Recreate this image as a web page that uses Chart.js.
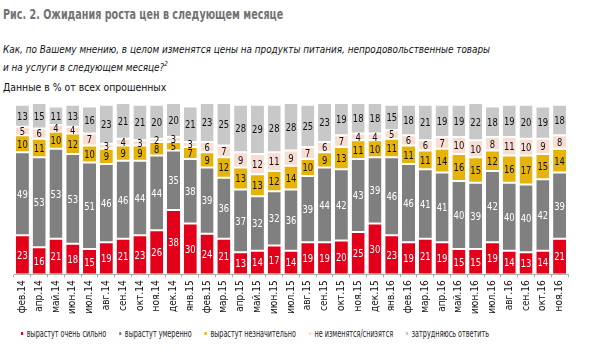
<!DOCTYPE html>
<html>
<head>
<meta charset="utf-8">
<script src="https://cdn.jsdelivr.net/npm/chart.js@4"></script>
<style>
  body { margin: 0; background: #fff; font-family: "DejaVu Sans Condensed", "DejaVu Sans", sans-serif; }
  #wrap { position: relative; width: 597px; height: 360px; overflow: hidden; }
  .txt { position: absolute; left: 3px; white-space: nowrap; transform-origin: 0 0; }
  #title { top: 6px; font-size: 14px; font-weight: bold; color: #727272; }
  #question { top: 43px; font-size: 11px; font-style: italic; line-height: 14px; color: #111; }
  #question sup { font-size: 7px; }
  #note { top: 81px; font-size: 11px; color: #111; }
  #chartBox { position: absolute; left: 0; top: 95px; width: 597px; height: 230px; }
  #legend { top: 328px; left: 21px; display: flex; gap: 18px; font-size: 10px; color: #222; }
  #legend span.dot { display: inline-block; width: 3px; height: 3px; margin-right: 5px; vertical-align: middle; position: relative; top: -1px; }
</style>
</head>
<body>
<div id="wrap">
  <div id="title" class="txt">Рис. 2. Ожидания роста цен в следующем месяце</div>
  <div id="question" class="txt">Как, по Вашему мнению, в целом изменятся цены на продукты питания, непродовольственные товары<br>и на услуги в следующем месяце?<sup>2</sup></div>
  <div id="note" class="txt">Данные в % от всех опрошенных</div>
  <div id="chartBox"><canvas id="chart"></canvas></div>
  <div id="legend" class="txt"></div>
</div>
<script>
const months = ['фев.14', 'апр.14', 'май.14', 'июн.14', 'июл.14', 'авг.14', 'сен.14', 'окт.14', 'ноя.14', 'дек.14',
  'янв.15', 'фев.15', 'мар.15', 'апр.15', 'май.15', 'июн.15', 'июл.15', 'авг.15', 'сен.15', 'окт.15', 'ноя.15', 'дек.15',
  'янв.16', 'фев.16', 'мар.16', 'апр.16', 'май.16', 'июн.16', 'июл.16', 'авг.16', 'сен.16', 'окт.16', 'ноя.16'];

const veryStrong = [23, 16, 21, 18, 15, 19, 21, 23, 26, 38, 30, 24, 21, 13, 14, 17, 14, 19, 19, 20, 25, 30, 23, 19, 21, 19, 15, 15, 19, 14, 13, 14, 21];
const moderate   = [49, 53, 53, 53, 51, 46, 46, 44, 44, 35, 38, 39, 36, 37, 32, 32, 36, 39, 44, 42, 43, 39, 46, 46, 41, 41, 40, 39, 42, 40, 40, 42, 39];
const slight     = [10, 11, 10, 12, 10, 9, 9, 9, 8, 5, 7, 9, 12, 13, 13, 12, 14, 10, 9, 13, 11, 10, 11, 11, 11, 14, 16, 15, 12, 16, 17, 15, 14];
const noChange   = [5, 6, 4, 4, 7, 3, 4, 3, 2, 3, 3, 6, 7, 9, 12, 11, 9, 7, 6, 7, 4, 4, 5, 6, 6, 7, 10, 10, 8, 11, 10, 9, 8];
const hardToSay  = [13, 15, 11, 13, 16, 23, 21, 21, 20, 20, 21, 23, 25, 28, 29, 28, 28, 25, 23, 19, 18, 18, 15, 18, 21, 19, 19, 22, 18, 19, 20, 19, 18];

const seriesNames = ['вырастут очень сильно', 'вырастут умеренно', 'вырастут незначительно', 'не изменятся/снизятся', 'затрудняюсь ответить'];
const seriesColors = ['#e2001a', '#808080', '#e6b30a', '#f8ddd2', '#c8c8c8'];
const labelColors = ['#fff', '#fff', '#111', '#111', '#111'];
const seriesData = [veryStrong, moderate, slight, noChange, hardToSay];

const FONT = '"DejaVu Sans Condensed", "DejaVu Sans", sans-serif';

// legend
const legend = document.getElementById('legend');
seriesNames.forEach((name, i) => {
  const item = document.createElement('div');
  item.innerHTML = '<span class="dot" style="background:' + seriesColors[i] + '"></span>' + name;
  legend.appendChild(item);
});

// squeeze text blocks horizontally to the narrow face of the original
function fitWidth(id, target) {
  const el = document.getElementById(id);
  el.style.transform = 'scaleX(' + (target / el.scrollWidth) + ')';
}
fitWidth('title', 280);
fitWidth('question', 487);
fitWidth('note', 163);
fitWidth('legend', 468);

const segmentLabels = {
  id: 'segmentLabels',
  afterDatasetsDraw(chart) {
    const ctx = chart.ctx;
    ctx.save();
    ctx.font = '11px ' + FONT;
    ctx.textAlign = 'center';
    ctx.textBaseline = 'middle';
    chart.data.datasets.forEach((ds, di) => {
      const meta = chart.getDatasetMeta(di);
      ctx.fillStyle = labelColors[di];
      meta.data.forEach((bar, i) => {
        const mid = (bar.y + bar.base) / 2;
        ctx.save();
        ctx.translate(bar.x, mid + 1);
        ctx.scale(0.85, 1);
        ctx.fillText(ds.data[i], 0, 0);
        ctx.restore();
      });
    });
    ctx.restore();
  }
};

new Chart(document.getElementById('chart'), {
  type: 'bar',
  data: {
    labels: months,
    datasets: seriesData.map((d, i) => ({
      label: seriesNames[i],
      data: d,
      backgroundColor: seriesColors[i],
      borderColor: '#fff',
      borderWidth: { top: 1, bottom: 1, left: 0, right: 0 },
      borderSkipped: false,
      barPercentage: 0.8,
      categoryPercentage: 0.97
    }))
  },
  options: {
    responsive: true,
    maintainAspectRatio: false,
    animation: false,
    layout: { padding: { left: 14, right: 29, top: 8, bottom: 8 } },
    plugins: {
      legend: { display: false },
      tooltip: { enabled: false }
    },
    scales: {
      x: {
        stacked: true,
        border: { color: '#aaa' },
        grid: { display: true, drawOnChartArea: false, tickLength: 3, color: '#aaa' },
        ticks: {
          color: '#111',
          font: { size: 10, family: FONT },
          minRotation: 90,
          maxRotation: 90,
          autoSkip: false,
          padding: 3
        }
      },
      y: {
        stacked: true,
        display: false,
        min: 0,
        max: 101
      }
    }
  },
  plugins: [segmentLabels]
});
</script>
</body>
</html>
